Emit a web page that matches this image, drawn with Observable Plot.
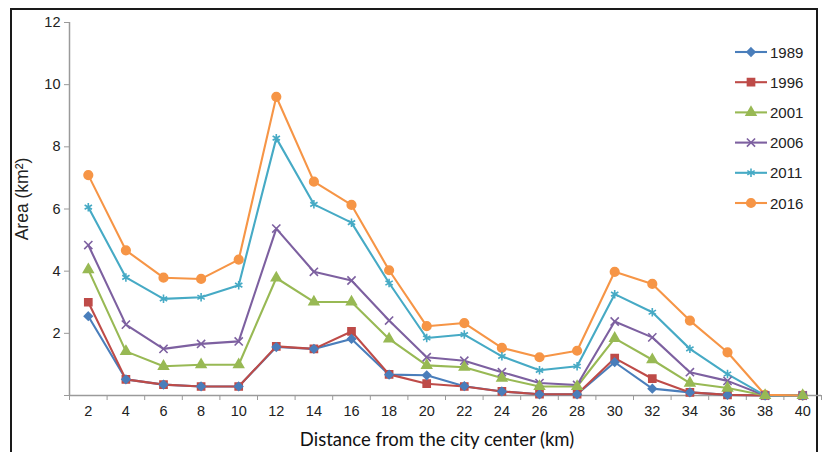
<!DOCTYPE html>
<html>
<head>
<meta charset="utf-8">
<script src="https://cdn.jsdelivr.net/npm/d3@7"></script>
<script src="https://cdn.jsdelivr.net/npm/@observablehq/plot@0.6"></script>
<style>
  html, body { margin: 0; padding: 0; background: #fff; }
  #wrap { position: relative; width: 823px; height: 452px; overflow: hidden; font-family: "Liberation Sans", Arial, sans-serif; }
  #border { position: absolute; left: 10px; top: 8px; width: 808px; height: 460px; border: 2px solid #1a1a1a; box-sizing: border-box; }
  #chart { position: absolute; left: 0; top: 0; }
  #chart svg text { font-family: "Liberation Sans", Arial, sans-serif; }
  #ylab { position: absolute; left: 23px; top: 199px; transform: translate(-50%, -50%) rotate(-90deg); font-size: 17.5px; color: #222; white-space: nowrap; line-height: 1; }
  #xlab { position: absolute; left: 437px; top: 430px; transform: translateX(-50%); font-family: Lato, "Open Sans", sans-serif; font-size: 18.5px; color: #111; white-space: nowrap; line-height: 1; }
  #legend { position: absolute; left: 728px; top: 36px; }
</style>
</head>
<body>
<div id="wrap">
  <div id="border"></div>
  <div id="chart"></div>
  <div id="ylab">Area (km²)</div>
  <div id="xlab">Distance from the city center (km)</div>
  <svg id="legend" width="90" height="185"></svg>
</div>
<script>
const distance = [2,4,6,8,10,12,14,16,18,20,22,24,26,28,30,32,34,36,38,40];
const years = ["1989","1996","2001","2006","2011","2016"];
const s1989 = [2.55,0.52,0.35,0.29,0.29,1.56,1.50,1.82,0.67,0.65,0.30,0.13,0.04,0.04,1.07,0.22,0.10,0.02,0,0];
const s1996 = [3.00,0.52,0.35,0.29,0.29,1.58,1.50,2.06,0.68,0.38,0.29,0.13,0.04,0.04,1.20,0.54,0.10,0.02,0,0];
const s2001 = [4.05,1.42,0.94,0.99,0.99,3.78,3.01,3.01,1.82,0.97,0.91,0.56,0.29,0.29,1.84,1.15,0.40,0.24,0,0];
const s2006 = [4.84,2.28,1.50,1.66,1.74,5.37,3.98,3.70,2.41,1.23,1.12,0.75,0.40,0.34,2.38,1.87,0.75,0.47,0,0];
const s2011 = [6.06,3.80,3.11,3.16,3.55,8.28,6.15,5.56,3.62,1.85,1.96,1.26,0.81,0.94,3.26,2.68,1.50,0.69,0,0];
const s2016 = [7.09,4.67,3.79,3.75,4.37,9.61,6.88,6.13,4.03,2.23,2.33,1.53,1.23,1.44,3.98,3.59,2.41,1.39,0.02,0];
const yTicks = [0,2,4,6,8,10,12];
const xBoundaries = [1,3,5,7,9,11,13,15,17,19,21,23,25,27,29,31,33,35,37,39,41];
const xDomain = [1, 41];

const colors = ["#4a7ebb","#be4b48","#98b954","#7d60a0","#46aac5","#f69546"];
const symbols = ["diamond2","square","triangle","times","asterisk","circle"];
const symSize = [3.6, 4.0, 3.6, 3.8, 4.0, 4.3];

const seriesList = [s1989, s1996, s2001, s2006, s2011, s2016];
const data = [];
years.forEach((yr, i) => distance.forEach((d, j) => data.push({year: yr, distance: d, area: seriesList[i][j], r: symSize[i]})));

const axisColor = "#9a9a9a";
const font = '"Liberation Sans", Arial, sans-serif';
const chart = Plot.plot({
  width: 823,
  height: 452,
  marginLeft: 69,
  marginRight: 2,
  marginTop: 22,
  marginBottom: 57,
  style: {fontFamily: font, background: "transparent"},
  x: {domain: xDomain},
  y: {domain: [0, 12]},
  r: {type: "identity"},
  color: {domain: years, range: colors},
  symbol: {domain: years, range: symbols},
  marks: [
    Plot.ruleY([0], {stroke: axisColor, strokeWidth: 1.5}),
    Plot.ruleX([xDomain[0]], {stroke: axisColor, strokeWidth: 1.5}),
    Plot.axisY({ticks: yTicks, tickFormat: d => d === 0 ? "" : d, tickSize: 5, tickPadding: 4, stroke: axisColor, fill: "#222", fontSize: 14.5, fontFamily: font, label: null}),
    Plot.axisX({ticks: xBoundaries, tickFormat: () => "", tickSize: 5, stroke: axisColor, label: null}),
    Plot.axisX({ticks: distance, tickFormat: d => d, tickSize: 0, tickPadding: 10, fill: "#222", fontSize: 14.5, fontFamily: font, label: null}),
    Plot.line(data, {x: "distance", y: "area", z: "year", stroke: "year", strokeWidth: 2.1}),
    Plot.dot(data, {x: "distance", y: "area", symbol: "year", fill: "year", stroke: "year", r: "r", strokeWidth: 1.6})
  ]
});
document.getElementById("chart").appendChild(chart);

// legend
const leg = d3.select("#legend");
const d3sym = {diamond2: d3.symbolDiamond2, square: d3.symbolSquare, triangle: d3.symbolTriangle, times: d3.symbolTimes, asterisk: d3.symbolAsterisk, circle: d3.symbolCircle};
years.forEach((yr, i) => {
  const g = leg.append("g").attr("transform", `translate(0, ${16 + i * 30.2})`);
  g.append("line").attr("x1", 7).attr("x2", 39).attr("stroke", colors[i]).attr("stroke-width", 2.1);
  g.append("path").attr("transform", "translate(23,0)")
    .attr("d", d3.symbol(d3sym[symbols[i]], Math.PI * symSize[i] * symSize[i])())
    .attr("fill", colors[i]).attr("stroke", colors[i]).attr("stroke-width", 1.6);
  g.append("text").attr("x", 42).attr("y", 5.5).attr("font-size", 15).attr("fill", "#222")
    .attr("font-family", font).text(yr);
});
</script>
</body>
</html>
